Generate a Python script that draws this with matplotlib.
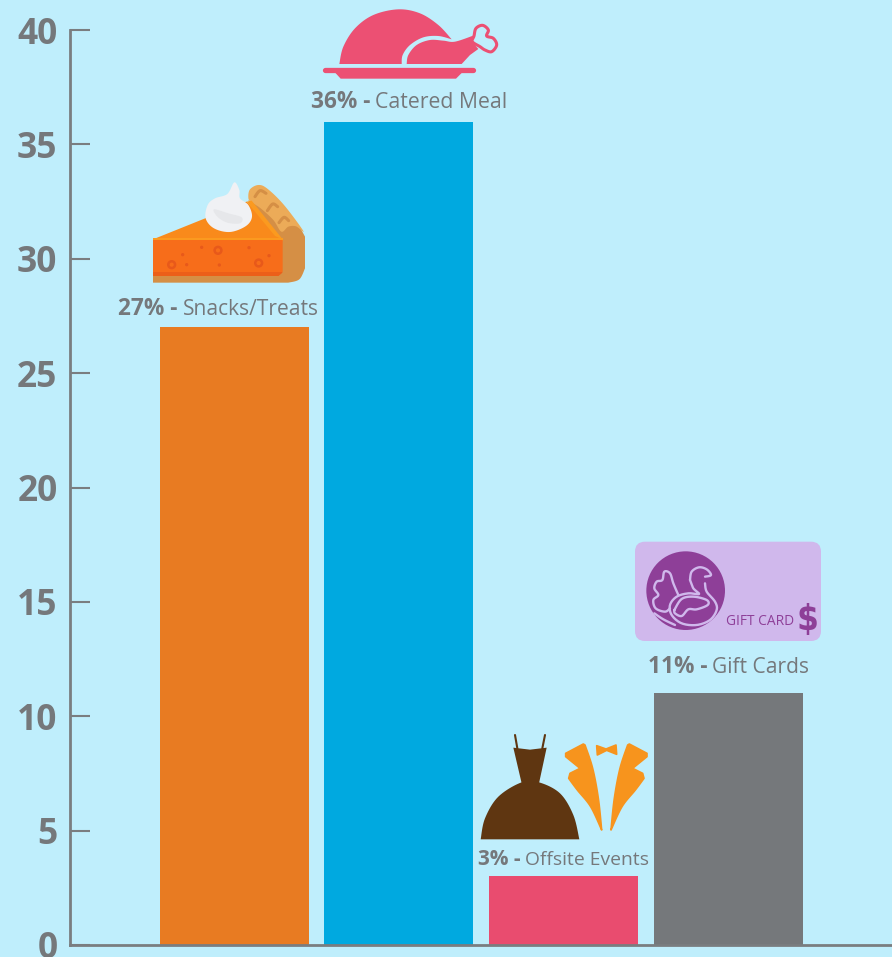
import numpy as np
import matplotlib
matplotlib.use("Agg")
import matplotlib.pyplot as plt
from matplotlib.patches import Polygon, Circle, FancyBboxPatch

categories = ["Snacks/Treats", "Catered Meal", "Offsite Events", "Gift Cards"]
values = [27, 36, 3, 11]
bar_colors = ["#E87B22", "#00A9E0", "#E94C6F", "#75787B"]
y_ticks = [0, 5, 10, 15, 20, 25, 30, 35, 40]

BG = "#BFEEFC"
GRAY = "#75787B"
FONT = "Open Sans"
W, H = 892, 957

fig = plt.figure(figsize=(W / 100, H / 100), dpi=100, facecolor=BG)
ax = fig.add_axes([70 / W, (H - 945) / H, (W - 70) / W, 915 / H], facecolor="none")
ax.bar(range(4), values, width=0.905, color=bar_colors, zorder=2)
ax.set_xlim(-0.997, 3.995)
ax.set_ylim(0, 40)
ax.set_xticks([])
ax.set_yticks(y_ticks)
ax.tick_params(axis="y", direction="in", length=14.4, width=1.5, color="#7A7D80", pad=9)
for s in ("top", "right"):
    ax.spines[s].set_visible(False)
for s in ("left", "bottom"):
    ax.spines[s].set_color("#7A7D80")
    ax.spines[s].set_linewidth(2)
for lab in ax.get_yticklabels():
    lab.set_fontfamily(FONT)
    lab.set_fontweight("bold")
    lab.set_fontsize(25.5)
    lab.set_color(GRAY)

# Value labels: bold percentage followed by regular category name
label_dx = [-15.5, 10, 0, 0.5]
label_dy = [12, 14, 11, 20]
head_size = [16.3, 16.3, 15, 16.3]
name_size = [15.1, 15.3, 13.9, 15.1]
GAP = 5
fig.canvas.draw()
r = fig.canvas.get_renderer()
for i, (c, v) in enumerate(zip(categories, values)):
    kw = dict(textcoords="offset pixels", xycoords="data", color=GRAY, fontfamily=FONT,
              va="baseline", ha="left", zorder=5)
    a = ax.annotate(f"{v}% -", (i, v), xytext=(0, 0), fontweight="bold", fontsize=head_size[i], **kw)
    b = ax.annotate(c, (i, v), xytext=(0, 0), fontweight="normal", fontsize=name_size[i], **kw)
    wa = a.get_window_extent(r).width
    wb = b.get_window_extent(r).width
    x0 = label_dx[i] - (wa + GAP + wb) / 2
    a.xyann = (x0, label_dy[i])
    b.xyann = (x0 + wa + GAP, label_dy[i])

# Pixel-space overlay for the decorative icons
ov = fig.add_axes([0, 0, 1, 1], facecolor="none", zorder=6)
ov.set_xlim(0, W)
ov.set_ylim(H, 0)
ov.axis("off")


def spline(pts, closed=True, n=10):
    p = np.array(pts, float)
    if closed:
        q = np.vstack([p[-1], p, p[0], p[1]])
    else:
        q = np.vstack([p[0], p, p[-1]])
    out = []
    for i in range(1, len(q) - 2):
        t = np.linspace(0, 1, n, endpoint=False)[:, None]
        a, b, c, d = q[i - 1], q[i], q[i + 1], q[i + 2]
        out.append(0.5 * (2 * b + (c - a) * t + (2 * a - 5 * b + 4 * c - d) * t ** 2
                          + (3 * b - a - 3 * c + d) * t ** 3))
    out = np.vstack(out)
    if not closed:
        out = np.vstack([out, p[-1]])
    return out


def icon(ox, oy):
    def conv(pts):
        return np.array(pts, float) / 3 + (ox, oy)

    def poly(pts, color, smooth=False, **kw):
        pts = conv(pts)
        if smooth:
            pts = spline(pts)
        ov.add_patch(Polygon(pts, closed=True, facecolor=color, edgecolor=kw.pop("ec", "none"),
                             lw=kw.pop("lw", 0), joinstyle="round"))

    def line(pts, color, lw, smooth=True):
        pts = conv(pts)
        if smooth:
            pts = spline(pts, closed=False)
        ov.plot(pts[:, 0], pts[:, 1], color=color, lw=lw, solid_capstyle="round")

    def circ(x, y, rad, color):
        cx, cy = conv([(x, y)])[0]
        ov.add_patch(Circle((cx, cy), rad / 3, facecolor=color, edgecolor="none"))

    return poly, line, circ


# Pie slice
poly, line, circ = icon(140, 170)
TAN = "#D58F45"
body = spline(np.array([(445, 338), (478, 328), (495, 295)], float), closed=False)
poly(np.vstack([[(39, 312), (39, 338)], body, [(495, 200), (480, 172), (325, 90), (420, 312)]]), TAN)
poly([(325, 82), (330, 58), (355, 45), (382, 56), (432, 105), (490, 183), (468, 169), (445, 170),
      (424, 185), (400, 150), (362, 115), (332, 95)], "#ECAB58", smooth=True)
line([(345, 80), (360, 62), (378, 70)], TAN, 2.2)
line([(382, 122), (398, 102), (413, 110)], TAN, 2.2)
line([(417, 158), (432, 142), (446, 152)], TAN, 2.2)
poly([(39, 208), (320, 95), (428, 208)], "#F98A1B")
poly([(320, 95), (335, 92), (428, 208), (405, 198)], "#FB9A1F")
poly([(39, 205), (428, 205), (428, 212), (39, 212)], "#FB9A1F")
poly([(39, 210), (428, 210), (428, 305), (415, 318), (39, 318)], "#F76D1A")
poly([(39, 306), (428, 306), (425, 310), (415, 318), (39, 318)], "#EC5F19")
for x, y, rad in [(95, 284, 14), (234, 241, 14), (356, 279, 14)]:
    circ(x, y, rad, "#E8591A")
    circ(x, y, rad * 0.45, "#F76D1A")
for x, y in [(128, 254), (140, 284), (185, 232), (238, 285), (327, 233), (387, 257)]:
    circ(x, y, 5, "#E8591A")
poly([(283, 37), (298, 60), (300, 85), (325, 105), (336, 140), (318, 168), (270, 186), (222, 175),
      (197, 145), (203, 105), (225, 85), (262, 72)], "#F0F1F4", smooth=True)
poly([(222, 118), (265, 130), (305, 142), (300, 160), (262, 158), (232, 140)], "#E6E7EA", smooth=True)

# Turkey on a platter
poly, line, circ = icon(310, 0)
PINK = "#EC5073"
dome = spline(np.array([(88, 192), (100, 140), (135, 85), (190, 45), (265, 28), (330, 40), (385, 75),
                        (425, 118)], float), closed=False)
wing = spline(np.array([(425, 118), (385, 108), (340, 112), (300, 135), (278, 165), (275, 192)], float),
              closed=False)
poly(np.vstack([dome, wing]), PINK)
poly([(492, 108), (498, 85), (518, 76), (535, 90), (530, 108), (550, 115), (560, 135), (545, 155),
      (525, 150), (510, 140), (487, 125)], BG, smooth=True, ec=PINK, lw=2.2)
leg_top = spline(np.array([(290, 192), (295, 165), (320, 135), (360, 120), (400, 122), (435, 125),
                           (492, 106)], float), closed=False)
poly(np.vstack([leg_top, [(486, 125), (505, 147), (480, 165), (455, 192)]]), PINK)
line([(44, 210), (490, 210)], PINK, 3.8, smooth=False)
poly([(70, 212), (92, 236), (438, 236), (462, 212)], PINK)

# Dress
poly, line, circ = icon(470, 725)
BROWN = "#5F3611"
line([(135, 30), (142, 70)], BROWN, 1.5, smooth=False)
line([(225, 30), (217, 70)], BROWN, 1.5, smooth=False)
poly([(130, 68), (180, 74), (230, 68), (207, 175), (155, 175)], BROWN)
skirt = spline(np.array([(32, 343), (45, 280), (85, 215), (155, 172), (207, 172), (270, 205), (310, 270),
                         (328, 343)], float), closed=False)
poly(skirt, BROWN)

# Tuxedo
TUX = "#F7941D"
lapel_inner = spline(np.array([(345, 60), (368, 130), (385, 220), (395, 315)], float), closed=False)
lapel_outer = spline(np.array([(395, 315), (362, 245), (322, 195), (296, 160)], float), closed=False)
lapel = np.vstack([[(287, 85), (340, 57)], lapel_inner, lapel_outer, [(300, 145), (330, 130), (287, 95)]])
poly(lapel, TUX, ec=TUX, lw=1.2)
poly(np.column_stack([818 - lapel[:, 0], lapel[:, 1]]), TUX, ec=TUX, lw=1.2)
poly([(380, 62), (408, 72), (438, 60), (440, 88), (410, 76), (382, 90)], TUX, ec=TUX, lw=1.2)

# Gift card
poly, line, circ = icon(625, 530)
CARD = "#D0B8EC"
PURPLE = "#8E3F98"
ov.add_patch(FancyBboxPatch((635 + 9, 541.7 + 9), 186 - 18, 99.3 - 18,
                            boxstyle="round,pad=9,rounding_size=10", facecolor=CARD, edgecolor="none"))
circ(182, 182, 118, PURPLE)
L = 1.7
line([(195, 150), (200, 125), (222, 112), (245, 118), (258, 135), (240, 140)], CARD, L)
line([(195, 150), (205, 175), (222, 192), (190, 190), (155, 200), (135, 225), (140, 255), (170, 280),
      (215, 285), (255, 270), (275, 240), (270, 215), (245, 185), (240, 160)], CARD, L)
line([(148, 240), (170, 207), (205, 200), (245, 210), (248, 225), (215, 238), (190, 238), (170, 258),
      (150, 250), (148, 240)], CARD, L)
line([(160, 195), (145, 160), (135, 130), (118, 125), (112, 150), (95, 155), (88, 175), (100, 195),
      (85, 210), (92, 235), (120, 245), (135, 235)], CARD, L)
line([(88, 250), (115, 268), (150, 285)], CARD, L)
ov.text(625 + 406 / 3, 530 + 285 / 3, "GIFT CARD", color=PURPLE, fontfamily=FONT, fontsize=9.9,
        ha="center", va="baseline")
ov.text(625 + 547 / 3, 530 + 270 / 3, "$", color=PURPLE, fontfamily="DejaVu Sans", stretch="condensed",
        fontweight="bold", fontsize=25, ha="center", va="center")

fig.savefig("out.png", dpi=100, facecolor=BG)
